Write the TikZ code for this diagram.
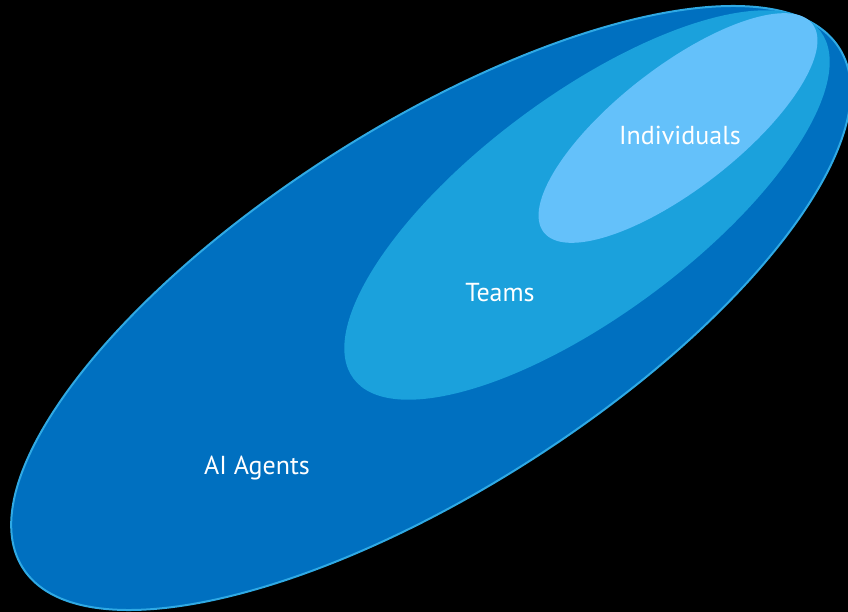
\documentclass[tikz,border=0pt]{standalone}
\usepackage{fontspec}
\setmainfont{PT Sans}
\definecolor{agentblue}{HTML}{0070C0}
\definecolor{teamblue}{HTML}{1BA1DC}
\definecolor{indivblue}{HTML}{64C1FA}
\definecolor{rimblue}{HTML}{2FA9E4}
\begin{document}
\begin{tikzpicture}[x=1pt,y=-1pt,
  setlabel/.style={text=white,font=\fontsize{26}{30}\selectfont,inner sep=0pt}]
  % canvas
  \fill[black] (0,0) rectangle (848,612);
  \useasboundingbox (0,0) rectangle (848,612);
  % nested sets
  \filldraw[fill=agentblue,draw=rimblue,line width=2pt,rotate around={32.5:(431,308)}]
    (431,308) ellipse [x radius=484,y radius=182];
  \fill[teamblue,rotate around={36.6:(587,205)}]
    (587,205) ellipse [x radius=291,y radius=110];
  \fill[indivblue,rotate around={37.8:(678,128)}]
    (678,128) ellipse [x radius=170,y radius=61];
  % labels
  \node[setlabel] (indiv) at (680,135) {Individuals};
  \node[setlabel] (teams) at (500,293) {Teams};
  \node[setlabel] (agents) at (257,468) {AI Agents};
\end{tikzpicture}
\end{document}
